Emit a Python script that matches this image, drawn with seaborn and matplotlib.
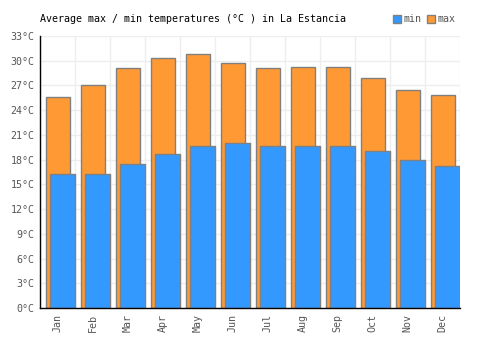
import numpy as np
import pandas as pd
import matplotlib
matplotlib.use('Agg')
import matplotlib.pyplot as plt
import seaborn as sns
from matplotlib.patches import Patch

meses = ['Jan', 'Feb', 'Mar', 'Apr', 'May', 'Jun', 'Jul', 'Aug', 'Sep', 'Oct', 'Nov', 'Dec']
temp_max = [25.6, 27.0, 29.1, 30.3, 30.8, 29.7, 29.1, 29.3, 29.2, 27.9, 26.4, 25.9]
temp_min = [16.2, 16.3, 17.5, 18.7, 19.7, 20.0, 19.7, 19.7, 19.6, 19.1, 17.9, 17.2]
yticks = list(range(0, 34, 3))

df = pd.DataFrame({'mes': meses, 'max': temp_max, 'min': temp_min})

sns.set_style('white')
plt.rcParams['font.family'] = ['DejaVu Sans Mono']

cor_max = '#ff9933'
cor_min = '#3399ff'
borda = '#808080'
texto = '#555555'

fig = plt.figure(figsize=(5, 3.5), dpi=100)
ax = fig.add_axes([0.08, 0.12, 0.84, 0.777])

sns.barplot(data=df, x='mes', y='max', color=cor_max, width=0.69, saturation=1,
            edgecolor=borda, linewidth=1, ax=ax, zorder=2)
n_max = len(ax.patches)
sns.barplot(data=df, x='mes', y='min', color=cor_min, width=0.71, saturation=1,
            edgecolor=borda, linewidth=1, ax=ax, zorder=3)

# desloca as barras para reproduzir a sobreposição do original
for p in ax.patches[:n_max]:
    p.set_x(p.get_x() + 0.015)
for p in ax.patches[n_max:]:
    p.set_x(p.get_x() + 0.145)

ax.set_xlim(-0.5, 11.5)
ax.set_ylim(0, 33)
ax.set_yticks(yticks)
ax.set_yticklabels([f'{t}°C' for t in yticks])
ax.set_xticks(range(12))
ax.set_xticklabels(meses, rotation=90)
ax.set_xticks(np.arange(-0.5, 12, 1), minor=True)
ax.grid(False)
ax.grid(True, which='minor', axis='x', color='#eeeeee', linewidth=1, zorder=0)
ax.grid(True, which='major', axis='y', color='#eeeeee', linewidth=1, zorder=0)
ax.set_axisbelow(True)
ax.tick_params(axis='both', which='both', length=0, labelsize=7.2, labelcolor=texto, pad=4)
ax.set_xlabel('')
ax.set_ylabel('')

for s in ['top', 'right']:
    ax.spines[s].set_visible(False)
for s in ['left', 'bottom']:
    ax.spines[s].set_color('black')
    ax.spines[s].set_linewidth(1)
    ax.spines[s].set_zorder(5)

fig.text(0.08, 0.945, 'Average max / min temperatures (°C ) in La Estancia',
         fontsize=7.2, color='black', va='center', ha='left')

handles = [Patch(facecolor=cor_min, edgecolor=borda, label='min'),
           Patch(facecolor=cor_max, edgecolor=borda, label='max')]
fig.legend(handles=handles, loc='center right', bbox_to_anchor=(0.92, 0.945), ncol=2,
           frameon=False, fontsize=7.2, labelcolor=texto, handlelength=0.8,
           handleheight=0.8, handletextpad=0.2, columnspacing=0.6, borderpad=0)

plt.savefig('out.png', dpi=100)
